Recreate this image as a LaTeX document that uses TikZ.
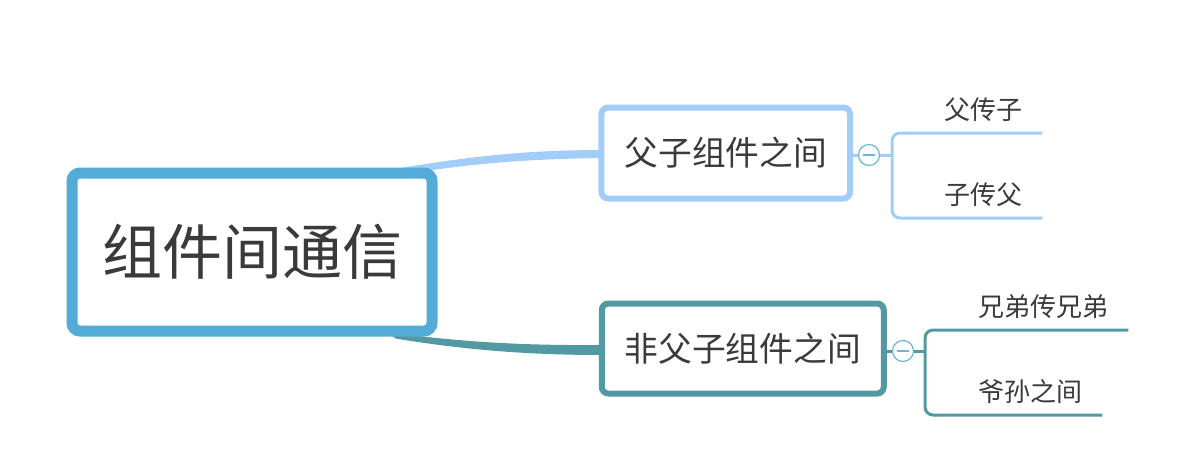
\documentclass[tikz,border=0pt]{standalone}
\usepackage{fontspec}
\setmainfont{Noto Sans CJK SC}
\usetikzlibrary{calc,backgrounds}
\definecolor{rootblue}{HTML}{53ACD8}
\definecolor{skyblue}{HTML}{A2CDF8}
\definecolor{tealblue}{HTML}{5299A4}
\definecolor{foldblue}{HTML}{6DB5DA}
\definecolor{textgray}{HTML}{3A3A3A}

\begin{document}
\begin{tikzpicture}[x=0.75pt, y=-0.75pt,
    every node/.style={text=textgray},
    topic/.style={draw,rounded corners=5pt,fill=white,line width=4.5pt,inner sep=0pt,font=\fontsize{25.3}{30}\selectfont},
    leaf/.style={inner sep=0pt,font=\fontsize{19.5}{24}\selectfont},
    fold/.style={circle,draw=foldblue,fill=white,line width=0.9pt,minimum size=15.75pt,inner sep=0pt,
      path picture={\draw[foldblue,line width=1pt] ([xshift=-4.5pt]path picture bounding box.center) -- ([xshift=4.5pt]path picture bounding box.center);}},
    skyline/.style={draw=skyblue,line width=2.25pt},
    tealline/.style={draw=tealblue,line width=2.25pt}]
    \useasboundingbox (0,0) rectangle (1194,472);

    % central topic
    \node[draw=rootblue,rounded corners=6pt,fill=white,line width=8.25pt,minimum width=270pt,minimum height=118.5pt,inner sep=0pt,font=\fontsize{45}{54}\selectfont] (root) at (252,252) {组件间通信};

    % main branches
    \node[topic,draw=skyblue,minimum width=186.4pt,minimum height=68.25pt] (br1) at (725.75,153) {父子组件之间};
    \node[topic,draw=tealblue,minimum width=211.5pt,minimum height=67.5pt] (br2) at (742.75,348.5) {非父子组件之间};

    \begin{pgfonlayer}{background}
      \fill[skyblue] ($(root.north east)+(-45,2)$) .. controls (470,156) and (530,150) .. ($(br1.west)+(4,-3)$)
        -- ($(br1.west)+(4,5)$) .. controls (530,159) and (470,163) .. ($(root.north east)+(-40,8)$) -- cycle;
      \fill[tealblue] ($(root.south east)+(-48,-4)$) .. controls (470,343) and (530,345.5) .. ($(br2.west)+(4,-3.5)$)
        -- ($(br2.west)+(4,6.5)$) .. controls (530,355) and (465,350) .. ($(root.south east)+(-42,2)$) -- cycle;
    \end{pgfonlayer}

    % fold buttons
    \node[fold] (fold1) at (869,155) {};
    \node[fold] (fold2) at (903,351) {};
    \coordinate (j1) at (892,155);
    \coordinate (j2) at (925,351);

    % leaves
    \node[leaf] (leafA) at (983,110) {父传子};
    \node[leaf] (leafB) at (983,195) {子传父};
    \node[leaf] (leafC) at (1043,307) {兄弟传兄弟};
    \node[leaf] (leafD) at (1030,392) {爷孙之间};

    \draw[skyline] (br1.east |- fold1) -- (fold1);
    \draw[skyline] (fold1) -- (j1);
    \draw[skyline,rounded corners=6pt] ($(leafA.east)+(20,23)$) -| (j1) |- ($(leafB.east)+(20,23)$);

    \draw[tealline] (br2.east |- fold2) -- (fold2);
    \draw[tealline] (fold2) -- (j2);
    \draw[tealline,rounded corners=6pt] ($(leafC.east)+(20,23)$) -| (j2) |- ($(leafD.east)+(20,23)$);
\end{tikzpicture}
\end{document}
